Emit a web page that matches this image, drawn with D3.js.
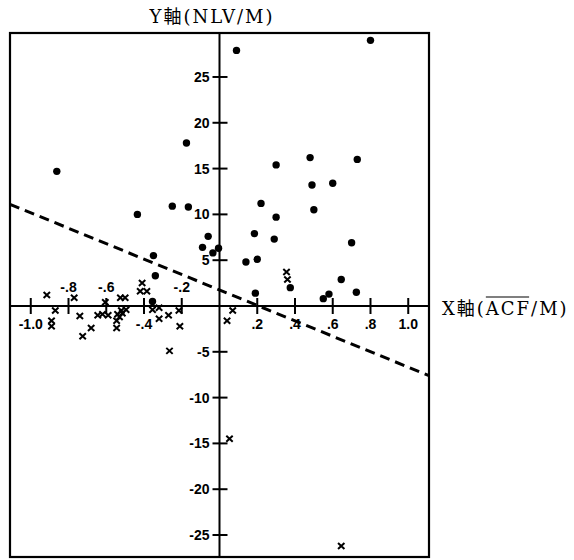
<!DOCTYPE html>
<html>
<style type="text/css">
body{ margin:0; background:#fff; }
text{ font-family: "Liberation Sans", Arial, sans-serif; font-size: 14px; font-weight: bold; }
</style>
<head>
</head>
<body>
<script src="https://d3js.org/d3.v7.min.js"></script>
<script>
  // scatter points (filled dots)
  var dotsX = [-0.862, 0.09, 0.80, -0.175, 0.30, 0.48, 0.73, 0.49, 0.60, 0.22, 0.50, 0.30, 0.185,
               0.29, 0.70, 0.14, 0.20, 0.375, 0.645, 0.19, 0.55, 0.58, 0.725, -0.25, -0.165, -0.435,
               -0.06, -0.09, -0.005, -0.035, -0.35, -0.34, -0.355];
  var dotsY = [14.7, 27.9, 29.0, 17.8, 15.4, 16.2, 16.0, 13.2, 13.4, 11.2, 10.5, 9.7, 7.9,
               7.3, 6.9, 4.8, 5.1, 2.0, 2.9, 1.4, 0.8, 1.3, 1.5, 10.9, 10.8, 10.0,
               7.6, 6.4, 6.3, 5.8, 5.5, 3.3, 0.5];
  // scatter points (x marks)
  var crossX = [-0.915, -0.87, -0.89, -0.89, -0.77, -0.74, -0.68, -0.725, -0.605, -0.645, -0.62, -0.59,
                -0.545, -0.545, -0.53, -0.515, -0.495, -0.525, -0.50, -0.54, -0.52, -0.41, -0.42, -0.385,
                -0.355, -0.32, -0.32, -0.27, -0.215, -0.21, -0.265, 0.04, 0.07, 0.355, 0.36, 0.053, 0.645];
  var crossY = [1.2, -0.5, -1.6, -2.2, 0.9, -1.1, -2.4, -3.3, 0.4, -1.0, -0.9, -1.0,
                -1.6, -2.4, -1.2, -0.8, -0.4, 0.9, 0.9, -0.9, -0.5, 2.5, 1.6, 1.6,
                -0.4, -0.2, -1.4, -1.0, -0.5, -2.2, -4.9, -1.6, -0.5, 3.7, 2.9, -14.5, -26.2];
  // dashed line end points
  var fitX = [-1.11, 1.11];
  var fitY = [11.1, -7.6];
  // ticks
  var xTicks = [-1.0, -0.8, -0.6, -0.4, -0.2, 0.2, 0.4, 0.6, 0.8, 1.0];
  var xTicksAbove = [-0.8, -0.6, -0.2];
  var yTicks = [-25, -20, -15, -10, -5, 5, 10, 15, 20, 25];

  var width = 574, height = 560;
  var box = {left: 10, right: 429, top: 33, bottom: 557};
  var serif = '"DejaVu Serif", "Liberation Serif", "Noto Sans CJK JP", serif';

  var svg = d3.select("body").append("svg")
      .attr("width", width)
      .attr("height", height);

  var x = d3.scaleLinear().domain([-1.11, 1.11]).range([box.left, box.right]);
  var y = d3.scaleLinear().domain([-27.4, 29.8]).range([box.bottom, box.top]);

  function fmt(v){
    var s = Math.abs(v) >= 1 ? Math.abs(v).toFixed(1) : Math.abs(v).toFixed(1).replace("0.", ".");
    return (v < 0 ? "-" : "") + s;
  }

  // frame
  svg.append("rect")
      .attr("x", box.left).attr("y", box.top)
      .attr("width", box.right - box.left).attr("height", box.bottom - box.top)
      .style("fill", "none").style("stroke", "#000").style("stroke-width", 2.2);

  // y axis through x=0, ticks cross the line
  var yAxis = svg.append("g").attr("transform", "translate(" + x(0) + ",0)");
  yAxis.append("line").attr("y1", box.top).attr("y2", box.bottom)
      .style("stroke", "#000").style("stroke-width", 2);
  yAxis.selectAll(".yt").data(yTicks).enter().append("line")
      .attr("x1", -7).attr("x2", 8)
      .attr("y1", function(d){ return y(d); }).attr("y2", function(d){ return y(d); })
      .style("stroke", "#000").style("stroke-width", 2);
  yAxis.selectAll(".yl").data(yTicks).enter().append("text")
      .attr("x", -10).attr("y", function(d){ return y(d); })
      .attr("dy", "0.36em").attr("text-anchor", "end")
      .text(function(d){ return d; });

  // x axis through y=0
  var xAxis = svg.append("g").attr("transform", "translate(0," + y(0) + ")");
  xAxis.append("line").attr("x1", box.left).attr("x2", box.right)
      .style("stroke", "#000").style("stroke-width", 2);
  xAxis.selectAll(".xt").data(xTicks).enter().append("line")
      .attr("x1", function(d){ return x(d); }).attr("x2", function(d){ return x(d); })
      .attr("y1", -8).attr("y2", 8)
      .style("stroke", "#000").style("stroke-width", 2);
  xAxis.selectAll(".xl").data(xTicks).enter().append("text")
      .attr("x", function(d){ return x(d); })
      .attr("y", function(d){ return xTicksAbove.indexOf(d) >= 0 ? -14 : 23; })
      .attr("text-anchor", "middle")
      .text(function(d){ return fmt(d); });

  // dashed line
  svg.append("line")
      .attr("x1", x(fitX[0])).attr("y1", y(fitY[0]))
      .attr("x2", x(fitX[1])).attr("y2", y(fitY[1]))
      .style("stroke", "#000").style("stroke-width", 3)
      .style("stroke-dasharray", "10,6");

  // dots
  var dots = dotsX.map(function(d, i){ return [d, dotsY[i]]; });
  svg.selectAll(".dot").data(dots).enter().append("circle")
      .attr("cx", function(d){ return x(d[0]); })
      .attr("cy", function(d){ return y(d[1]); })
      .attr("r", 3.7)
      .style("fill", "#000");

  // crosses
  var crosses = crossX.map(function(d, i){ return [d, crossY[i]]; });
  svg.selectAll(".cross").data(crosses).enter().append("path")
      .attr("d", function(d){
        var cx = x(d[0]), cy = y(d[1]), a = 3.2, b = 3;
        return "M" + (cx - a) + "," + (cy - b) + "L" + (cx + a) + "," + (cy + b) +
               "M" + (cx + a) + "," + (cy - b) + "L" + (cx - a) + "," + (cy + b);
      })
      .style("stroke", "#000").style("stroke-width", 2).style("fill", "none");

  // axis titles
  svg.append("text")
      .attr("x", 212).attr("y", 23).attr("text-anchor", "middle")
      .style("font-family", serif).style("font-size", "18px").style("font-weight", "normal")
      .style("letter-spacing", "2px")
      .text("Y軸(NLV/M)");

  var xt = svg.append("text")
      .attr("x", 442).attr("y", 315)
      .style("font-family", serif).style("font-size", "18px").style("font-weight", "normal")
      .style("letter-spacing", "2px");
  xt.append("tspan").text("X軸(");
  xt.append("tspan").text("ACF");
  xt.append("tspan").text("/M)");
  // overline above ACF
  var n0 = "X軸(".length;
  var sx = xt.node().getStartPositionOfChar(n0).x;
  var ex = xt.node().getEndPositionOfChar(n0 + 2).x;
  svg.append("line").attr("x1", sx).attr("x2", ex - 2)
      .attr("y1", 297).attr("y2", 297)
      .style("stroke", "#000").style("stroke-width", 1.2);
</script>
</body>
</html>
